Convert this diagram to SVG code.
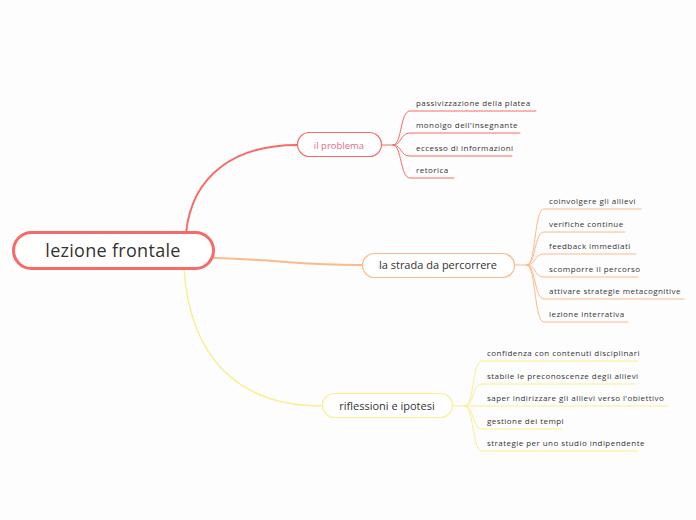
<svg xmlns="http://www.w3.org/2000/svg" width="696" height="520" viewBox="0 0 696 520">
<style>
.bg{fill:#fdfdfd}
.c{fill:none;stroke-linecap:round}
.red{stroke:#f66b68}
.org{stroke:#fdb98a}
.yel{stroke:#faee8f}
.t{font-family:"Open Sans","Liberation Sans",sans-serif;fill:#333}
.s{font-size:8px;letter-spacing:0.45px}
.m{font-size:11px;text-anchor:middle}
</style>
<rect class="bg" width="696" height="520"/>
<g id="connectors">
<path class="c red" stroke-width="2" d="M186,233 C192,175 235,145 297,145"/>
<path class="c org" stroke-width="2" d="M214,258 C280,260 300,265 362,265"/>
<path class="c yel" stroke-width="1.5" d="M184,268 C190,360 240,406 322,406"/>
<g stroke-width="1">
<path class="c red" d="M382,145 H393 C402,145 400,111 410,111 H536"/>
<path class="c red" d="M393,145 C402,145 400,133 410,133 H520"/>
<path class="c red" d="M393,145 C402,145 400,156 410,156 H512"/>
<path class="c red" d="M393,145 C402,145 400,178 410,178 H454"/>
<path class="c org" d="M515,265 H527 C536,265 534,209 544,209 H641"/>
<path class="c org" d="M527,265 C536,265 534,232 544,232 H625"/>
<path class="c org" d="M527,265 C536,265 534,254 544,254 H636"/>
<path class="c org" d="M527,265 C536,265 534,277 544,277 H638"/>
<path class="c org" d="M527,265 C536,265 534,299 544,299 H684"/>
<path class="c org" d="M527,265 C536,265 534,322 544,322 H628"/>
<path class="c yel" d="M453,406 H465 C474,406 472,361 482,361 H638"/>
<path class="c yel" d="M465,406 C474,406 472,384 482,384 H635"/>
<path class="c yel" d="M465,406 H668"/>
<path class="c yel" d="M465,406 C474,406 472,429 482,429 H562"/>
<path class="c yel" d="M465,406 C474,406 472,451 482,451 H638"/>
</g>
</g>
<g id="root">
<rect x="13.5" y="232.5" width="200" height="36" rx="18" fill="#fff" stroke="#f66b68" stroke-width="3"/>
<text class="t" x="113" y="257" font-size="18" letter-spacing="0.3" text-anchor="middle">lezione frontale</text>
</g>
<g id="b1">
<rect x="297.5" y="132.5" width="84" height="24" rx="12" fill="#fff" stroke="#f66b68" stroke-width="1.2"/>
<text class="t m" x="339" y="148.5" style="fill:#e56a8a;font-size:9.5px">il problema</text>
</g>
<g id="b1s">
<text class="t s" x="416" y="106">passivizzazione della platea</text>
<text class="t s" x="416" y="128">monolgo dell'insegnante</text>
<text class="t s" x="416" y="151">eccesso di informazioni</text>
<text class="t s" x="416" y="173">retorica</text>
</g>
<g id="b2">
<rect x="362.5" y="253.5" width="152" height="24" rx="12" fill="#fff" stroke="#fdb98a" stroke-width="1.2"/>
<text class="t m" x="438" y="269">la strada da percorrere</text>
</g>
<g id="b2s">
<text class="t s" x="549" y="204">coinvolgere gli allievi</text>
<text class="t s" x="549" y="227">verifiche continue</text>
<text class="t s" x="549" y="249">feedback immediati</text>
<text class="t s" x="549" y="272">scomporre il percorso</text>
<text class="t s" x="549" y="294">attivare strategie metacognitive</text>
<text class="t s" x="549" y="317">lezione interrativa</text>
</g>
<g id="b3">
<rect x="322.5" y="393.5" width="130" height="24" rx="12" fill="#fff" stroke="#faee8f" stroke-width="1.2"/>
<text class="t m" x="387" y="410">riflessioni e ipotesi</text>
</g>
<g id="b3s">
<text class="t s" x="487" y="356">confidenza con contenuti disciplinari</text>
<text class="t s" x="487" y="379">stabile le preconoscenze degli allievi</text>
<text class="t s" x="487" y="401">saper indirizzare gli allievi verso l’obiettivo</text>
<text class="t s" x="487" y="424">gestione dei tempi</text>
<text class="t s" x="487" y="446">strategie per uno studio indipendente</text>
</g>
</svg>
